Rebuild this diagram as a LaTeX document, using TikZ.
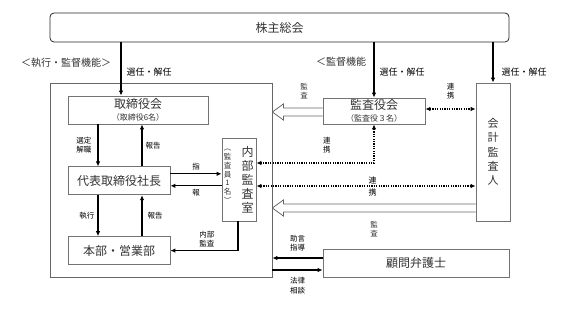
\documentclass[tikz,border=0pt]{standalone}
\usepackage{fontspec}
\setmainfont{Noto Sans CJK JP}
\usetikzlibrary{arrows.meta,positioning,calc}

% wide open arrow pointing left, from #1 to tip #2
\newcommand{\hollowarrow}[2]{%
  \draw[hollow] ($(#1)+(0,4)$) -- ($(#2)+(11,4)$) -- ($(#2)+(11,8)$) -- (#2)
    -- ($(#2)+(11,-8)$) -- ($(#2)+(11,-4)$) -- ($(#1)+(0,-4)$);}

\begin{document}
\begin{tikzpicture}[
    x=1pt, y=1pt,
    font=\fontsize{8}{10}\selectfont,
    text=black!80,
    org_box/.style={draw=black!55, line width=0.8pt, rectangle, inner sep=0pt, minimum height=28pt, align=center},
    big_txt/.style={font=\fontsize{12}{14}\selectfont},
    lbl/.style={inner sep=1pt, align=center, font=\fontsize{7.5}{9.5}\selectfont},
    sennin_lbl/.style={inner sep=1pt, font=\fontsize{9}{10}\selectfont},
    head_lbl/.style={inner sep=0pt, font=\fontsize{10}{12}\selectfont},
    arr/.style={-{Latex[length=5pt,width=4.5pt]}, line width=1.2pt, black},
    dots/.style={{Latex[length=5pt,width=4.5pt]}-{Latex[length=5pt,width=4.5pt]}, line width=1.2pt, dash pattern=on 1.2pt off 1.2pt, black},
    hollow/.style={draw=black!60, line width=0.8pt}
]
\useasboundingbox (0,0) rectangle (561,-318);

\node[org_box, draw=black!85, rounded corners=4pt, minimum width=459pt, minimum height=29pt, big_txt] (kabunushi) at (279.5,-27.5) {株主総会};

\node[org_box, draw=black!60, minimum width=222pt, minimum height=194pt] (kaisha) at (161,-180) {};

\node[org_box, minimum width=140pt] (torishimari) at (138,-110) {{\fontsize{12}{14}\selectfont 取締役会}\\[2pt]（取締役6名）};

\node[org_box, big_txt, minimum width=102pt, below=42pt of torishimari.south west, anchor=north west] (daihyo) {代表取締役社長};

\node[org_box, big_txt, minimum width=102pt, below=41pt of daihyo.south west, anchor=north west] (honbu) {本部・営業部};

\node[org_box, minimum width=34pt, minimum height=83pt] (naibu) at (239,-179.5) {};
\node[big_txt, align=center, inner sep=0pt] (naibu_name) at ([xshift=8.5pt]naibu.center) {内\\部\\監\\査\\室};
\node[align=center, inner sep=0pt, font=\fontsize{7.5}{8.8}\selectfont] (naibu_staff) at ([xshift=-11.5pt,yshift=3pt]naibu.center) {︵\\監\\査\\員\\1\\名\\︶};

\node[org_box, minimum width=102pt, minimum height=26pt] (kansa) at (374,-111) {{\fontsize{12}{14}\selectfont 監査役会}\\[2pt]（監査役３名）};

\node[org_box, minimum width=34pt, minimum height=138pt, font=\fontsize{11}{14.25}\selectfont] (kaikei) at (493,-152) {会\\計\\監\\査\\人};

\node[org_box, big_txt, minimum width=186pt] (komon) at (416,-263) {顧問弁護士};

\node[head_lbl] (shikko) at (66,-63) {＜執行・監督機能＞};
\node[head_lbl] (kantoku) at (341,-62) {＜監督機能};

% election from the general meeting
\draw[arr] ([xshift=-17pt]torishimari.north |- kabunushi.south) -- node[sennin_lbl, right=4pt, pos=0.55] {選任・解任} ([xshift=-17pt]torishimari.north);
\draw[arr] (kansa.north |- kabunushi.south) -- node[sennin_lbl, right=4pt, pos=0.54] {選任・解任} (kansa.north);
\draw[arr] (kaikei.north |- kabunushi.south) -- node[sennin_lbl, right=7pt, pos=0.73] {選任・解任} (kaikei.north);

% board and president
\draw[arr] ([xshift=-21pt]daihyo.north |- torishimari.south) -- node[lbl, left=5pt] {選定\\解職} ([xshift=-21pt]daihyo.north);
\draw[arr] ([xshift=23pt]daihyo.north) -- node[lbl, right=2pt] {報告} ([xshift=23pt]daihyo.north |- torishimari.south);
\draw[arr] ([xshift=-21pt]daihyo.south) -- node[lbl, left=2pt] {執行} ([xshift=-21pt]honbu.north);
\draw[arr] ([xshift=23pt]honbu.north) -- node[lbl, right=4pt] {報告} ([xshift=23pt]daihyo.south);

% internal audit
\draw[arr] ([yshift=7pt]daihyo.east) -- node[lbl, above=2pt] {指} ([yshift=7pt]daihyo.east -| naibu.west);
\draw[arr] ([yshift=-5pt]daihyo.east -| naibu.west) -- node[lbl, below=2pt] {報} ([yshift=-5pt]daihyo.east);
\draw[arr] ([xshift=-1pt]naibu.south) |- node[lbl, pos=0.73, above=2pt] {内部\\監査} (honbu.east);

% auditors
\coordinate (kansa_out) at ([yshift=-1pt]kansa.west);
\hollowarrow{kansa_out}{kaisha.east |- kansa_out}
\node[lbl] (kansa_lbl) at (304,-91) {監\\査};
\draw[dots] ([yshift=2pt]kansa.east) -- node[lbl, above=8pt] {連\\携} ([yshift=2pt]kansa.east -| kaikei.west);
\draw[dots] (kansa.south) |- node[lbl, pos=0.7, above=8pt] {連\\携} ([yshift=16.5pt]naibu.east);
\draw[dots] ([yshift=-6.5pt]naibu.east) -- node[lbl, pos=0.53, font=\fontsize{8}{12}\selectfont] {連\\携} ([yshift=-6.5pt]naibu.east -| kaikei.west);
\coordinate (kaikei_out) at ([yshift=-56pt]kaikei.west);
\hollowarrow{kaikei_out}{kaisha.east |- kaikei_out}
\node[lbl] (kaikei_lbl) at (374,-229) {監\\査};

% legal counsel
\draw[arr] ([yshift=5pt]komon.west) -- node[lbl, above=5pt] {助言\\指導} ([yshift=5pt]komon.west -| kaisha.east);
\draw[arr] ([yshift=-7pt]komon.west -| kaisha.east) -- node[lbl, below=6pt] {法律\\相談} ([yshift=-7pt]komon.west);

\end{tikzpicture}
\end{document}
